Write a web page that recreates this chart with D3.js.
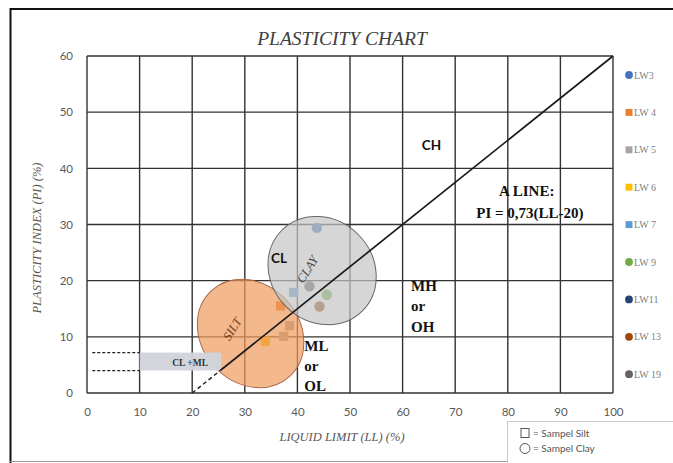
<!DOCTYPE html>
<html>
<head>
<meta charset="utf-8">
<script src="https://cdn.jsdelivr.net/npm/d3@7"></script>
<style>
  body { margin: 0; background: #fff; }
  svg { display: block; }
</style>
</head>
<body>
<script>
const sampleNames = ["LW3", "LW 4", "LW 5", "LW 6", "LW 7", "LW 9", "LW11", "LW 13", "LW 19"];
const sampleShapes = ["circle", "square", "square", "square", "square", "circle", "circle", "circle", "circle"];
const sampleColors = ["#4472c4", "#ed7d31", "#a5a5a5", "#ffc000", "#5b9bd5", "#70ad47", "#264478", "#9e480e", "#636363"];
const sampleLL = [[43.7], [36.8], [38.5, 37.4], [33.9], [39.3], [45.6], [], [44.2], [42.3]];
const samplePI = [[29.4], [15.5], [12.0, 10.1], [9.2], [17.9], [17.5], [], [15.4], [19.0]];

const xTicks = [0, 10, 20, 30, 40, 50, 60, 70, 80, 90, 100];
const yTicks = [0, 10, 20, 30, 40, 50, 60];

const aLineStart = [20, 0];
const aLineEnd = [100, 60];
const clMlBand = { llFrom: 10, llTo: 25.5, piFrom: 4, piTo: 7.2 };

const width = 673;
const height = 463;

const x = d3.scaleLinear().domain([0, 100]).range([87, 613]);
const y = d3.scaleLinear().domain([0, 60]).range([393, 56]);

const serif = "'Liberation Serif', 'Times New Roman', serif";
const sans = "Lato, 'Liberation Sans', sans-serif";

const svg = d3
  .select("body")
  .append("svg")
  .attr("width", width)
  .attr("height", height);

// outer frame
svg.append("path")
  .attr("d", `M 10.5 463 L 10.5 9 L 673 9`)
  .attr("fill", "none")
  .attr("stroke", "#111")
  .attr("stroke-width", 2);
svg.append("line")
  .attr("x1", 10).attr("x2", 507).attr("y1", 461.5).attr("y2", 461.5)
  .attr("stroke", "#999").attr("stroke-width", 1);

// title
svg.append("text")
  .attr("x", 342).attr("y", 45)
  .attr("text-anchor", "middle")
  .attr("font-family", serif).attr("font-style", "italic")
  .attr("font-size", 19.5).attr("fill", "#404040")
  .text("PLASTICITY CHART");

// grid
const grid = svg.append("g").attr("stroke", "#333").attr("stroke-width", 1.4);
grid.selectAll(".gx").data(xTicks).enter().append("line")
  .attr("x1", (d) => x(d)).attr("x2", (d) => x(d))
  .attr("y1", y(0)).attr("y2", y(60));
grid.selectAll(".gy").data(yTicks).enter().append("line")
  .attr("x1", x(0)).attr("x2", x(100))
  .attr("y1", (d) => y(d)).attr("y2", (d) => y(d));

// axes
const xAxis = svg.append("g")
  .attr("transform", `translate(0 ${y(0)})`)
  .call(d3.axisBottom(x).tickValues(xTicks).tickSize(0).tickPadding(15));
const yAxis = svg.append("g")
  .attr("transform", `translate(${x(0)} 0)`)
  .call(d3.axisLeft(y).tickValues(yTicks).tickSize(0).tickPadding(14));
[xAxis, yAxis].forEach((a) => {
  a.select(".domain").remove();
  a.selectAll("text")
    .attr("font-family", sans).attr("font-size", 11.5).attr("fill", "#595959");
});

svg.append("text")
  .attr("x", 342).attr("y", 441)
  .attr("text-anchor", "middle")
  .attr("font-family", serif).attr("font-style", "italic")
  .attr("font-size", 12.5).attr("fill", "#595959")
  .text("LIQUID LIMIT (LL) (%)");

svg.append("text")
  .attr("transform", `translate(41 ${238}) rotate(-90)`)
  .attr("text-anchor", "middle")
  .attr("font-family", serif).attr("font-style", "italic")
  .attr("font-size", 12.5).attr("fill", "#595959")
  .text("PLASTICITY INDEX (PI) (%)");

// sample points (under the zone ellipses)
const symbol = (shape, size) =>
  d3.symbol().type(shape === "circle" ? d3.symbolCircle : d3.symbolSquare).size(size)();

const pointData = sampleNames.flatMap((name, i) =>
  sampleLL[i].map((ll, j) => ({ name, i, ll, pi: samplePI[i][j] }))
);
svg.append("g").selectAll("path").data(pointData).enter().append("path")
  .attr("transform", (d) => `translate(${x(d.ll)} ${y(d.pi)})`)
  .attr("d", (d) => symbol(sampleShapes[d.i], 85))
  .attr("fill", (d) => sampleColors[d.i]);

// zone ellipses
svg.append("ellipse")
  .attr("transform", `translate(${x(31.1)} ${y(10.6)}) rotate(48)`)
  .attr("rx", 58).attr("ry", 49)
  .attr("fill", "#f09a5c").attr("fill-opacity", 0.7)
  .attr("stroke", "#a86848").attr("stroke-width", 1);
svg.append("ellipse")
  .attr("transform", `translate(${x(44.7)} ${y(21.8)}) rotate(45)`)
  .attr("rx", 57).attr("ry", 51)
  .attr("fill", "#c4c4c4").attr("fill-opacity", 0.7)
  .attr("stroke", "#666").attr("stroke-width", 1);

// CL+ML band
svg.append("rect")
  .attr("x", x(clMlBand.llFrom)).attr("y", y(clMlBand.piTo))
  .attr("width", x(clMlBand.llTo) - x(clMlBand.llFrom))
  .attr("height", y(clMlBand.piFrom) - y(clMlBand.piTo))
  .attr("fill", "#d0d4da").attr("fill-opacity", 0.95);
svg.selectAll(".band-dash").data([clMlBand.piFrom, clMlBand.piTo]).enter().append("line")
  .attr("x1", x(1)).attr("x2", x(clMlBand.llFrom))
  .attr("y1", (d) => y(d)).attr("y2", (d) => y(d))
  .attr("stroke", "#222").attr("stroke-width", 1.2)
  .attr("stroke-dasharray", "3 2");

// A line: dashed below the band, solid above
const aSlope = (aLineEnd[1] - aLineStart[1]) / (aLineEnd[0] - aLineStart[0]);
const llAt = (pi) => aLineStart[0] + (pi - aLineStart[1]) / aSlope;
svg.append("line")
  .attr("x1", x(aLineStart[0])).attr("y1", y(aLineStart[1]))
  .attr("x2", x(llAt(clMlBand.piFrom))).attr("y2", y(clMlBand.piFrom))
  .attr("stroke", "#222").attr("stroke-width", 1.5)
  .attr("stroke-dasharray", "4 3");
svg.append("line")
  .attr("x1", x(llAt(clMlBand.piFrom))).attr("y1", y(clMlBand.piFrom))
  .attr("x2", x(aLineEnd[0])).attr("y2", y(aLineEnd[1]))
  .attr("stroke", "#1a1a1a").attr("stroke-width", 1.7);

// zone labels
const label = (px, py, txt, opts = {}) =>
  svg.append("text")
    .attr("x", px).attr("y", py)
    .attr("text-anchor", opts.anchor || "middle")
    .attr("font-family", opts.family || serif)
    .attr("font-weight", opts.weight || "bold")
    .attr("font-style", opts.style || "normal")
    .attr("font-size", opts.size || 14)
    .attr("fill", opts.fill || "#111")
    .attr("transform", opts.rotate ? `rotate(${opts.rotate} ${px} ${py})` : null)
    .text(txt);

label(x(65.5), y(43.3), "CH", { family: sans, size: 13.5 });
label(x(36.5), y(23.2), "CL", { family: sans, size: 13.5 });
label(x(83.6), y(35.0), "A LINE:", { size: 15 });
label(x(84.2), y(31.2), "PI = 0,73(LL-20)", { size: 15 });
["MH", "or", "OH"].forEach((t, i) =>
  label(x(61.6), y(18.2) + i * 20.5, t, { anchor: "start", size: 15 })
);
["ML", "or", "OL"].forEach((t, i) =>
  label(x(41.3), y(7.4) + i * 20, t, { anchor: "start", size: 15 })
);
label(x(19.6), y(5.6) + 4, "CL +ML", { size: 9.5, fill: "#333" });
label(x(28.3), y(11.0), "SILT", { style: "italic", weight: "normal", size: 12.5, fill: "#6b3a1e", rotate: -58 });
label(x(42.6), y(21.6), "CLAY", { style: "italic", weight: "normal", size: 12.5, fill: "#444", rotate: -58 });

// series legend on the right
const legend = svg.append("g").selectAll("g").data(sampleNames).enter().append("g")
  .attr("transform", (_, i) => `translate(629 ${75 + i * 37.4})`);
legend.append("path")
  .attr("d", (_, i) => symbol(sampleShapes[i], 48))
  .attr("fill", (_, i) => sampleColors[i]);
legend.append("text")
  .attr("x", 5).attr("y", 3.5)
  .attr("font-family", serif).attr("font-size", 10)
  .attr("fill", "#808080")
  .text((d) => d);

// sample type legend
const box = svg.append("g");
box.append("rect")
  .attr("x", 507.5).attr("y", 421.5).attr("width", 170).attr("height", 50)
  .attr("fill", "#fff").attr("stroke", "#c8c8c8");
box.append("rect")
  .attr("x", 521).attr("y", 428.5).attr("width", 8).attr("height", 9)
  .attr("fill", "none").attr("stroke", "#555");
box.append("circle")
  .attr("cx", 525).attr("cy", 448.5).attr("r", 5)
  .attr("fill", "none").attr("stroke", "#555");
box.selectAll(".lt").data(["=  Sampel Silt", "=  Sampel Clay"]).enter().append("text")
  .attr("x", 533).attr("y", (_, i) => 437 + i * 15)
  .attr("font-family", sans).attr("font-size", 10)
  .attr("fill", "#555")
  .text((d) => d);
</script>
</body>
</html>
